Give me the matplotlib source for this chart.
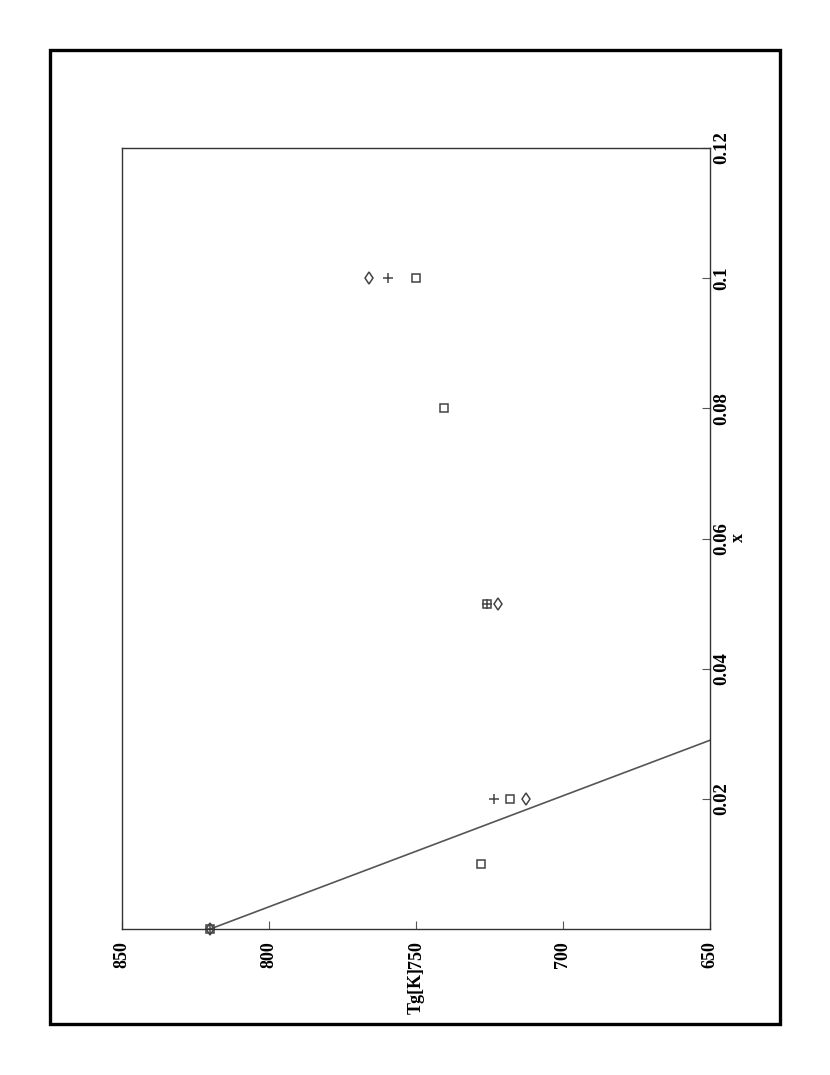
import matplotlib
matplotlib.use("Agg")
import matplotlib.pyplot as plt
from matplotlib.patches import Rectangle

# data (x = composition, tg = glass temperature in K)
sq_x = [0.0, 0.01, 0.02, 0.05, 0.08, 0.10]
sq_tg = [820, 728, 718, 726, 740.5, 750]
plus_x = [0.0, 0.02, 0.05, 0.10]
plus_tg = [820, 723.5, 726, 759.5]
dia_x = [0.0, 0.02, 0.05, 0.10]
dia_tg = [820, 712.5, 722, 766]
fit_x = [0.0, 0.029]
fit_tg = [820, 650]

tg_ticks = [850, 800, 750, 700, 650]
x_ticks = [0.02, 0.04, 0.06, 0.08, 0.10, 0.12]
x_ticklabels = ["0.02", "0.04", "0.06", "0.08", "0.1", "0.12"]

plt.rcParams['font.family'] = ['Liberation Serif', 'DejaVu Serif']
plt.rcParams['font.weight'] = 'bold'

W, H = 830, 1075
fig = plt.figure(figsize=(8.3, 10.75), dpi=100)

# outer frame
fig.patches.append(Rectangle((50 / W, 1 - 1024 / H), 730 / W, 974 / H,
                             transform=fig.transFigure, fill=False,
                             edgecolor='black', linewidth=2.4))

ax = fig.add_axes([122 / W, 1 - 929 / H, 588 / W, 781 / H])
ax.set_xlim(850, 650)
ax.set_ylim(0, 0.12)

mc = '#444444'
ax.plot(fit_tg, fit_x, color='#555555', lw=1.2, zorder=2)
ax.plot(sq_tg, sq_x, ls='none', marker='s', ms=5.5, mfc='none', mec=mc, mew=1.1, clip_on=False)
ax.plot(plus_tg, plus_x, ls='none', marker='+', ms=7, mec=mc, mew=1.1, clip_on=False)
ax.plot(dia_tg, dia_x, ls='none', marker='d', ms=6, mfc='none', mec=mc, mew=1.1, clip_on=False)

for s in ax.spines.values():
    s.set_color('#333333')
    s.set_linewidth(1.0)

ax.set_xticks(tg_ticks)
ax.set_xticklabels([str(t) for t in tg_ticks], rotation=90, fontsize=13, fontweight='bold')
ax.yaxis.tick_right()
ax.set_yticks(x_ticks)
ax.set_yticklabels(x_ticklabels, rotation=90, va='center', fontsize=13.5, fontweight='bold')
ax.tick_params(axis='x', direction='in', length=6, pad=9, color='#555555')
ax.tick_params(axis='y', direction='in', length=6, pad=2, color='#555555')

fig.text(738 / W, 1 - 538 / H, 'x', rotation=90, ha='center', va='center',
         fontsize=13, fontweight='bold')
fig.text(416 / W, 1 - 967 / H, 'Tg[K]', rotation=90, ha='center', va='top',
         fontsize=13, fontweight='bold')

fig.savefig('out.png', dpi=100)
